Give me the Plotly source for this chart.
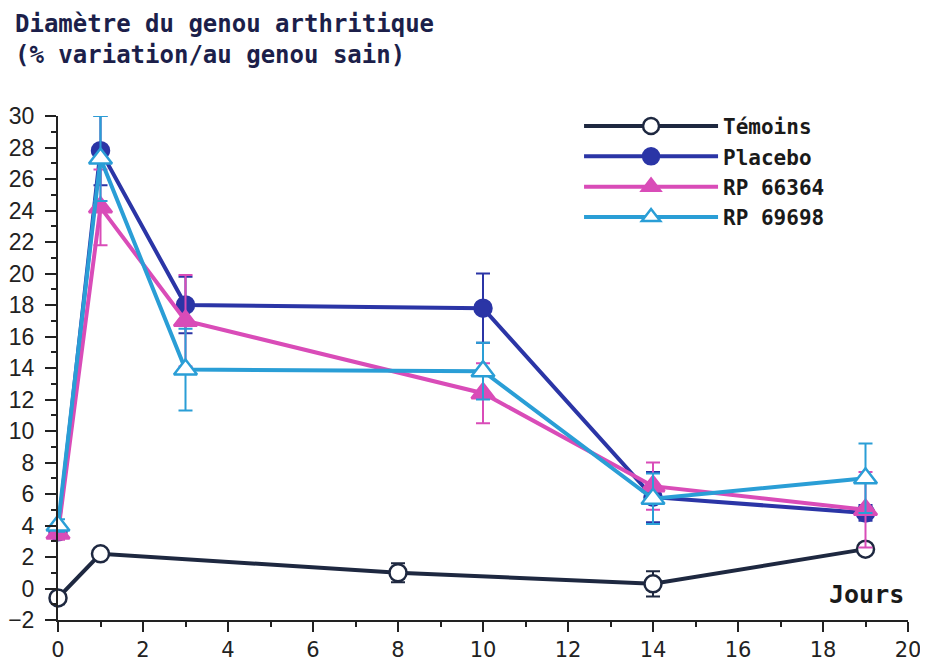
import plotly.graph_objects as go

jours = [0, 1, 3, 10, 14, 19]
jours_temoins = [0, 1, 8, 14, 19]

temoins = [-0.6, 2.2, 1.0, 0.3, 2.5]
temoins_err = [0.4, 0.3, 0.6, 0.8, 0.3]

placebo = [3.6, 27.8, 18.0, 17.8, 5.8, 4.8]
placebo_err = [0.4, 2.2, 1.8, 2.2, 1.6, 0.5]

rp66364 = [3.5, 24.2, 17.0, 12.4, 6.5, 5.0]
rp66364_err = [0.4, 2.4, 2.9, 1.9, 1.5, 2.4]

rp69698 = [4.0, 27.3, 13.9, 13.8, 5.7, 7.0]
rp69698_err = [0.4, 2.7, 2.6, 1.8, 1.6, 2.2]

series = [
    ("Témoins", jours_temoins, temoins, temoins_err, "#1e2840", "circle-open", "white"),
    ("Placebo", jours, placebo, placebo_err, "#2b35a6", "circle", "#2b35a6"),
    ("RP 66364", jours, rp66364, rp66364_err, "#d94cb8", "triangle-up", "#d94cb8"),
    ("RP 69698", jours, rp69698, rp69698_err, "#2a9ed6", "triangle-up", "white"),
]

fig = go.Figure()
for name, x, y, err, color, symbol, fill in series:
    fig.add_trace(go.Scatter(
        x=x, y=y, name=name, mode="lines+markers", cliponaxis=False,
        line=dict(color=color, width=4),
        marker=dict(symbol="circle" if symbol == "circle-open" else symbol,
                    size=17 if "circle" in symbol else 20,
                    color=fill, line=dict(color=color, width=2.5)),
        error_y=dict(type="data", array=err, visible=True, color=color,
                     thickness=2, width=7),
    ))

mono = "DejaVu Sans Mono"
fig.update_layout(
    width=920, height=653,
    margin=dict(l=50, r=20, t=108, b=41),
    paper_bgcolor="white", plot_bgcolor="white",
    showlegend=True,
    legend=dict(x=0.613, y=1.02, xanchor="left", yanchor="top",
                font=dict(family=mono, size=21, color="#1a1a1a", weight="bold"),
                itemwidth=134, tracegroupgap=0, bgcolor="rgba(0,0,0,0)",
                traceorder="normal"),
    annotations=[
        dict(text="Diamètre du genou arthritique<br>(% variation/au genou sain)",
             xref="paper", yref="paper", x=-0.053, y=1.09, xanchor="left", yanchor="bottom",
             showarrow=False, align="left",
             font=dict(family=mono, size=24, color="#1c1f4a", weight="bold")),
        dict(text="Jours", xref="x", yref="y", x=19.95, y=-0.4, xanchor="right",
             yanchor="middle", showarrow=False,
             font=dict(family=mono, size=25, color="#1a1a1a", weight="bold")),
    ],
)
fig.update_xaxes(
    range=[0, 20], tickvals=list(range(0, 21, 2)), showgrid=False, zeroline=False,
    showline=True, linecolor="#222", linewidth=2, automargin=False,
    ticks="outside", ticklen=10, tickwidth=2, tickcolor="#222",
    minor=dict(tickvals=list(range(1, 20, 2)), ticks="outside", ticklen=5,
               tickwidth=2, tickcolor="#222"),
    tickfont=dict(family="DejaVu Sans", size=21, color="#222"),
)
fig.update_yaxes(
    range=[-2, 30], tickvals=list(range(-2, 31, 2)), showgrid=False, zeroline=False,
    showline=True, linecolor="#222", linewidth=2, automargin=False,
    ticks="outside", ticklen=11, tickwidth=2, tickcolor="#222", ticklabelstandoff=6,
    minor=dict(tickvals=list(range(-1, 30, 2)), ticks="outside", ticklen=5,
               tickwidth=2, tickcolor="#222"),
    tickfont=dict(family="Liberation Sans", size=23, color="#222"),
)
fig.write_html("out.html")
